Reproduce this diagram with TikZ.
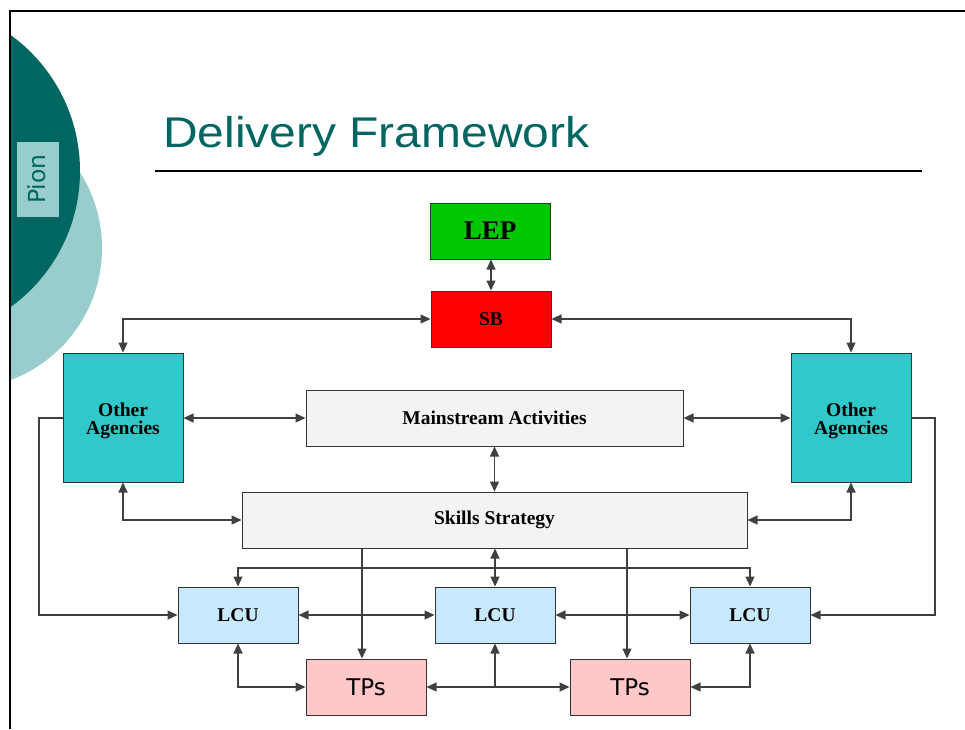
\documentclass[tikz,border=0pt]{standalone}
\usepackage{fontspec}
\usepackage{graphicx}
\setmainfont{Liberation Serif}
\newfontfamily\titlefont{Liberation Sans}
\newfontfamily\labelfont{DejaVu Sans}
\usetikzlibrary{arrows.meta}

\definecolor{darkteal}{RGB}{0,102,98}
\definecolor{paleteal}{RGB}{153,204,204}
\definecolor{agencyteal}{RGB}{48,200,200}
\definecolor{lepgreen}{RGB}{0,200,0}
\definecolor{sbred}{RGB}{255,0,0}
\definecolor{panelgray}{RGB}{243,243,243}
\definecolor{lcublue}{RGB}{200,233,252}
\definecolor{tppink}{RGB}{255,200,200}

\begin{document}
\begin{tikzpicture}[x=1pt,y=-1pt,
  box/.style={draw=black!80, line width=1pt, minimum width=120pt,
    minimum height=56pt, inner sep=0pt, align=center,
    font=\bfseries\fontsize{19.5}{17.5}\selectfont},
  link/.style={draw=black!75, line width=1.2pt},
  both/.style={link, {Triangle[length=10pt,width=9pt]}-{Triangle[length=10pt,width=9pt]}},
  into/.style={link, -{Triangle[length=10pt,width=9pt]}},
]
% page
\useasboundingbox (0,0) rectangle (965,729);
\fill[white] (0,0) rectangle (965,729);

% decorative discs at the left edge
\begin{scope}
  \clip (10,0) rectangle (965,729);
  \fill[paleteal] (-39,248) circle[radius=141pt];
  \fill[darkteal] (-88,171) circle[radius=168pt];
\end{scope}
\draw[line width=2pt] (10,729) -- (10,11) -- (965,11);

% side tab
\node[fill=paleteal, minimum width=42pt, minimum height=75pt, inner sep=0pt]
  (pionbox) at (38,179.5) {};
\node[rotate=90, text=darkteal, inner sep=0pt,
  font=\labelfont\fontsize{23.5}{23.5}\selectfont] (pion) at (37,179) {Pion};

% heading
\node[anchor=base west, inner sep=0pt, text=darkteal] (title) at (163,147)
  {\titlefont\fontsize{43}{43}\selectfont\scalebox{1.115}[1]{Delivery Framework}};
\draw[line width=1.3pt] (155,171) -- (922,171);

% boxes
\node[box, fill=lepgreen, font=\bfseries\fontsize{27}{27}\selectfont] (LEP) at (490,231) {LEP};
\node[box, fill=sbred] (SB) at (491,319) {SB};
\node[box, fill=agencyteal, minimum height=129pt] (OAL) at (123,417.5)
  {\raisebox{-4pt}[\height][\depth]{\begin{tabular}{@{}c@{}}Other\\[-1pt]Agencies\end{tabular}}};
\node[box, fill=agencyteal, minimum height=129pt] (OAR) at (851,417.5)
  {\raisebox{-4pt}[\height][\depth]{\begin{tabular}{@{}c@{}}Other\\[-1pt]Agencies\end{tabular}}};
\node[box, fill=panelgray, minimum width=377pt] (MA) at (494.5,418) {Mainstream Activities};
\node[box, fill=panelgray, minimum width=505pt] (SS) at (494.5,520) {Skills Strategy};
\node[box, fill=lcublue] (LCU1) at (238,615) {LCU};
\node[box, fill=lcublue] (LCU2) at (495,615) {LCU};
\node[box, fill=lcublue] (LCU3) at (750,615) {LCU};
\node[box, fill=tppink, font=\labelfont\fontsize{23}{23}\selectfont] (TP1) at (366,687) {TPs};
\node[box, fill=tppink, font=\labelfont\fontsize{23}{23}\selectfont] (TP2) at (630,687) {TPs};

% helper points
\coordinate (bar) at (495,568);
\coordinate (lrail) at (39,0);
\coordinate (rrail) at (935,0);

% connectors
\draw[both] (SB.north) -- (SB.north |- LEP.south);
\draw[both] (OAL.north) |- (SB.west);
\draw[both] (SB.east) -| (OAR.north);
\draw[both] (MA.west -| OAL.east) -- (MA.west);
\draw[both] (MA.east) -- (MA.east -| OAR.west);
\draw[both] (MA.south) -- (SS.north);
\draw[both] (OAL.south) |- (SS.west);
\draw[both] (OAR.south) |- (SS.east);
\draw[both] (LCU2.north |- SS.south) -- (LCU2.north);
\draw[both] (LCU1.north) |- (bar) -| (LCU3.north);
\draw[into] ([xshift=-4pt]TP1.north |- SS.south) -- ([xshift=-4pt]TP1.north);
\draw[into] ([xshift=-3pt]TP2.north |- SS.south) -- ([xshift=-3pt]TP2.north);
\draw[both] (LCU1.east) -- (LCU2.west);
\draw[both] (LCU2.east) -- (LCU3.west);
\draw[into] (MA.west -| OAL.west) -- (MA.west -| lrail) |- (LCU1.west);
\draw[into] (MA.east -| OAR.east) -- (MA.east -| rrail) |- (LCU3.east);
\draw[both] (LCU1.south) |- (TP1.west);
\draw[both] (LCU3.south) |- (TP2.east);
\draw[into] (LCU2.south |- TP1.east) -- (LCU2.south);
\draw[both] (TP1.east) -- (TP2.west);
\end{tikzpicture}
\end{document}
